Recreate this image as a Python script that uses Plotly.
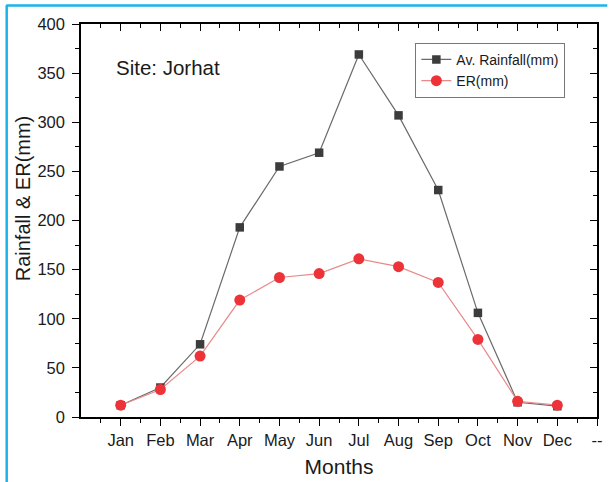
import plotly.graph_objects as go

months = ["Jan", "Feb", "Mar", "Apr", "May", "Jun", "Jul", "Aug", "Sep", "Oct", "Nov", "Dec"]
rainfall = [12, 30, 74, 193, 255, 269, 369, 307, 231, 106, 15, 11]
er = [12, 28, 62, 119, 142, 146, 161, 153, 137, 79, 16, 12]
extra_tick = "--"
y_ticks = [0, 50, 100, 150, 200, 250, 300, 350, 400]

idx = list(range(len(months)))
tick_labels = months + [extra_tick]
tick_pos = list(range(len(tick_labels)))

FONT = "Liberation Sans, Arial, sans-serif"
TXT = "#1a1a1a"

fig = go.Figure()
fig.add_trace(go.Scatter(
    x=idx, y=rainfall, mode="lines+markers", name="Av. Rainfall(mm)",
    line=dict(color="#6a6a6a", width=1.2),
    marker=dict(symbol="square", size=8.5, color="#3c3c3c"),
))
fig.add_trace(go.Scatter(
    x=idx, y=er, mode="lines+markers", name="ER(mm)",
    line=dict(color="#e88a8a", width=1.2),
    marker=dict(symbol="circle", size=11, color="#ee3338"),
))

xr = [-1, len(months)]
tick_common = dict(ticklen=7, tickwidth=1.2, tickcolor="black")
fig.update_layout(
    width=610, height=482,
    margin=dict(l=81, r=7, t=24, b=65),
    paper_bgcolor="white", plot_bgcolor="white",
    font=dict(family=FONT, color=TXT),
    showlegend=True,
    legend=dict(
        x=0.648, y=0.952, xanchor="left", yanchor="top",
        bgcolor="white", bordercolor="#777", borderwidth=1,
        font=dict(size=14, family=FONT), tracegroupgap=0,
        itemwidth=30,
    ),
    xaxis=dict(
        range=xr, tickmode="array", tickvals=tick_pos, ticktext=tick_labels,
        showgrid=False, zeroline=False, showline=True, linecolor="black", linewidth=1.5,
        ticks="outside", **tick_common,
        tickfont=dict(size=16.5, family=FONT, color=TXT),
        minor=dict(tickmode="linear", tick0=0.5, dtick=1, ticks="outside", ticklen=4,
                   tickwidth=1.2, tickcolor="black", showgrid=False),
        title=dict(text="Months", font=dict(size=21, family=FONT, color=TXT), standoff=12),
    ),
    yaxis=dict(
        range=[y_ticks[0], y_ticks[-1]], tickmode="array", tickvals=y_ticks,
        showgrid=False, zeroline=False, showline=True, linecolor="black", linewidth=1.5,
        ticks="outside", **tick_common, ticklabelstandoff=4,
        tickfont=dict(size=16.5, family=FONT, color=TXT),
        minor=dict(tickmode="linear", tick0=25, dtick=50, ticks="outside", ticklen=4,
                   tickwidth=1.2, tickcolor="black", showgrid=False),
    ),
    xaxis2=dict(
        range=xr, overlaying="x", side="top", tickmode="array", tickvals=tick_pos,
        showticklabels=False, showgrid=False, zeroline=False, showline=True,
        linecolor="black", linewidth=1.5, ticks="inside", **tick_common,
        minor=dict(tickmode="linear", tick0=0.5, dtick=1, ticks="inside", ticklen=4,
                   tickwidth=1.2, tickcolor="black", showgrid=False),
    ),
    yaxis2=dict(
        range=[y_ticks[0], y_ticks[-1]], overlaying="y", side="right", tickmode="array",
        tickvals=y_ticks, showticklabels=False, showgrid=False, zeroline=False,
        showline=True, linecolor="black", linewidth=1.5, ticks="inside", **tick_common,
        minor=dict(tickmode="linear", tick0=25, dtick=50, ticks="inside", ticklen=4,
                   tickwidth=1.2, tickcolor="black", showgrid=False),
    ),
)

# invisible trace to activate mirrored axes
fig.add_trace(go.Scatter(x=[None], y=[None], xaxis="x2", yaxis="y2",
                         showlegend=False, hoverinfo="skip"))

fig.add_annotation(
    text="Rainfall & ER(mm)", xref="paper", yref="paper", x=-0.112, y=0.557,
    xanchor="center", yanchor="middle", showarrow=False, textangle=-90,
    font=dict(size=20, family=FONT, color=TXT),
)

fig.add_annotation(
    text="Site: Jorhat", xref="paper", yref="paper", x=0.064, y=0.89,
    xanchor="left", yanchor="middle", showarrow=False,
    font=dict(size=20.5, family=FONT, color=TXT),
)

# cyan frame edges (top and left) like the reference image
fig.add_shape(type="line", xref="paper", yref="paper",
              x0=-0.145, x1=1.02, y0=1.047, y1=1.047,
              line=dict(color="#19b4ea", width=2.5))
fig.add_shape(type="line", xref="paper", yref="paper",
              x0=-0.144, x1=-0.144, y0=-0.2, y1=1.048,
              line=dict(color="#19b4ea", width=2.5))

fig.write_html("out.html", config={"displayModeBar": False},
               post_script="document.body.style.margin='0';")
